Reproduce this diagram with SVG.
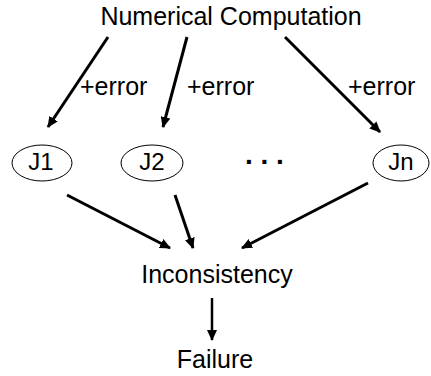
<svg xmlns="http://www.w3.org/2000/svg" width="431" height="376" viewBox="0 0 431 376">
<style>
text{font-family:"Liberation Sans",Arial,sans-serif;font-size:25px;fill:#000}
.c{text-anchor:middle}
.j{font-size:24px}
ellipse{fill:#fff;stroke:#000;stroke-width:1}
.e line{stroke:#000;stroke-width:3;marker-end:url(#ah)}
</style>
<defs>
<marker id="ah" markerUnits="userSpaceOnUse" markerWidth="11" markerHeight="10" refX="10" refY="5" orient="auto" viewBox="0 0 11 10">
<path d="M0,0 L11,5 L0,10 z" fill="#000"/>
</marker>
</defs>
<g id="numerical"><text class="c" x="231" y="25">Numerical Computation</text></g>
<g id="j1"><ellipse cx="42" cy="163" rx="30" ry="18"/><text class="c j" x="41" y="170">J1</text></g>
<g id="j2"><ellipse cx="152" cy="163" rx="31" ry="18"/><text class="c j" x="152" y="170">J2</text></g>
<g id="dots"><text x="245" y="164" style="font-weight:bold;font-size:28px">. . .</text></g>
<g id="jn"><ellipse cx="401" cy="163" rx="28" ry="18"/><text class="c j" x="401" y="170">Jn</text></g>
<g id="inconsistency"><text class="c" x="217" y="283">Inconsistency</text></g>
<g id="failure"><text class="c" x="215" y="368">Failure</text></g>
<g id="connectors" class="e">
<line x1="108" y1="37" x2="48" y2="127"/>
<line x1="187" y1="37" x2="163" y2="127"/>
<line x1="285" y1="37" x2="380" y2="132"/>
<line x1="67" y1="195" x2="170" y2="248"/>
<line x1="175" y1="195" x2="193" y2="248"/>
<line x1="368" y1="183" x2="242" y2="248"/>
<line x1="212" y1="298" x2="212" y2="340" style="stroke-width:2.5"/>
<text x="80" y="95">+error</text>
<text x="187" y="95">+error</text>
<text x="348" y="95">+error</text>
</g>
</svg>
